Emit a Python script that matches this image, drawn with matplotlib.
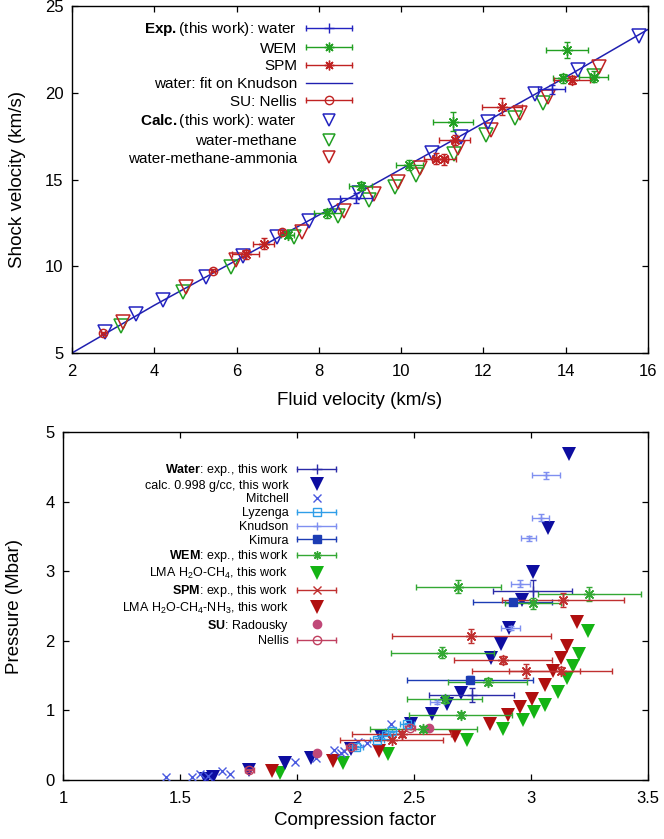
import matplotlib
matplotlib.use("Agg")
import matplotlib.pyplot as plt
from matplotlib.legend_handler import HandlerBase
from matplotlib.lines import Line2D

plt.rcParams['font.family'] = ['Liberation Sans', 'DejaVu Sans']
plt.rcParams['mathtext.fontset'] = 'custom'
plt.rcParams['mathtext.rm'] = 'Liberation Sans'
plt.rcParams['mathtext.bf'] = 'Liberation Sans:bold'
plt.rcParams['mathtext.it'] = 'Liberation Sans:italic'

# ---------------- top panel data (fluid velocity, shock velocity) ----------------
calc_w_up = [2.79, 3.56, 4.20, 5.26, 6.16, 6.99, 7.76, 8.39, 8.98, 10.76, 11.45, 12.10, 13.25, 14.29, 15.77]
calc_w_us = [6.23, 7.23, 8.05, 9.40, 10.59, 11.67, 12.63, 13.47, 14.20, 16.51, 17.47, 18.34, 19.93, 21.31, 23.27]
calc_wm_up = [3.20, 4.70, 5.87, 7.40, 8.47, 9.23, 9.84, 10.37, 11.29, 12.07, 12.76, 13.46, 14.68]
calc_wm_us = [6.57, 8.50, 9.97, 11.70, 12.90, 13.82, 14.59, 15.26, 16.47, 17.56, 18.52, 19.43, 20.96]
calc_wma_up = [3.25, 4.78, 5.98, 7.60, 8.60, 9.33, 9.92, 10.47, 11.38, 12.18, 12.89, 13.56, 14.80]
calc_wma_us = [6.80, 8.79, 10.36, 11.99, 13.20, 14.16, 14.87, 15.64, 16.84, 17.88, 18.85, 19.78, 21.46]
nellis_up = [2.75, 5.43, 7.11]
nellis_us = [6.13, 9.74, 11.99]
exp_w_up = [8.90, 13.66]
exp_w_us = [13.92, 20.20]
exp_w_uperr = [0.39, 0.33]
exp_w_userr = [0.29, 0.25]
wem_up = [7.24, 8.21, 9.02, 10.20, 11.26, 13.94, 14.04, 14.68]
wem_us = [11.80, 13.05, 14.63, 15.84, 18.33, 20.83, 22.46, 20.93]
wem_uperr = [0.15, 0.33, 0.28, 0.32, 0.48, 0.26, 0.51, 0.35]
wem_userr = [0.20, 0.25, 0.25, 0.30, 0.55, 0.25, 0.48, 0.30]
spm_up = [6.22, 6.66, 10.85, 11.04, 11.30, 12.45, 14.15]
spm_us = [10.69, 11.31, 16.20, 16.16, 17.28, 19.20, 20.74]
spm_uperr = [0.33, 0.26, 0.30, 0.30, 0.37, 0.49, 0.43]
spm_userr = [0.25, 0.30, 0.30, 0.30, 0.30, 0.50, 0.25]
fit_up = [2.0, 4.0, 6.0, 8.0, 10.0, 12.0, 14.0, 16.0]
fit_us = [5.0, 7.75, 10.35, 12.95, 15.6, 18.25, 20.9, 23.65]

# ---------------- bottom panel data (compression factor, pressure) ----------------
cw_x = [1.611, 1.642, 1.796, 1.949, 2.058, 2.23, 2.36, 2.486, 2.576, 2.64, 2.70, 2.83, 2.872, 2.907, 2.96, 3.007, 3.071, 3.164]
cw_p = [0.02, 0.04, 0.15, 0.24, 0.32, 0.45, 0.63, 0.80, 0.95, 1.09, 1.25, 1.75, 1.95, 2.19, 2.59, 2.99, 3.62, 4.68]
cwm_x = [1.927, 2.196, 2.387, 2.725, 2.882, 2.964, 3.013, 3.06, 3.117, 3.152, 3.18, 3.205, 3.245]
cwm_p = [0.10, 0.25, 0.38, 0.58, 0.73, 0.86, 0.97, 1.08, 1.27, 1.46, 1.64, 1.81, 2.14]
cwma_x = [1.892, 2.155, 2.35, 2.675, 2.825, 2.903, 2.953, 3.003, 3.06, 3.095, 3.127, 3.155, 3.198]
cwma_p = [0.13, 0.28, 0.42, 0.63, 0.80, 0.93, 1.05, 1.17, 1.36, 1.56, 1.75, 1.93, 2.27]
mit_x = [1.44, 1.55, 1.585, 1.62, 1.68, 1.714, 1.99, 2.08, 2.158, 2.187, 2.20, 2.26, 2.30, 2.40]
mit_p = [0.05, 0.05, 0.08, 0.06, 0.13, 0.08, 0.26, 0.31, 0.43, 0.39, 0.41, 0.55, 0.53, 0.80]
lyz_x = [2.252, 2.34, 2.38, 2.405, 2.47]
lyz_p = [0.47, 0.58, 0.65, 0.71, 0.80]
lyz_xerr = [0.03, 0.03, 0.03, 0.03, 0.03]
knu_x = [3.063, 3.041, 2.99, 2.955, 2.913, 2.60]
knu_p = [4.38, 3.77, 3.47, 2.82, 2.18, 1.12]
knu_xerr = [0.06, 0.035, 0.032, 0.04, 0.04, 0.03]
knu_perr = [0.05, 0.05, 0.03, 0.05, 0.03, 0.03]
kim_x = [2.921, 2.74]
kim_p = [2.56, 1.44]
kim_xerr = [0.17, 0.27]
kim_perr = [0.03, 0.05]
ew_x = [3.007, 2.746]
ew_p = [2.72, 1.22]
ew_xerr = [0.17, 0.18]
ew_perr = [0.16, 0.10]
wemb_x = [2.69, 3.249, 3.007, 2.62, 2.815, 2.632, 2.70, 2.54]
wemb_p = [2.78, 2.67, 2.54, 1.83, 1.41, 1.16, 0.93, 0.73]
wemb_xerr = [0.18, 0.22, 0.12, 0.22, 0.17, 0.16, 0.22, 0.23]
wemb_perr = [0.10, 0.10, 0.08, 0.08, 0.05, 0.05, 0.04, 0.04]
spmb_x = [3.138, 2.744, 2.879, 2.979, 3.128, 2.447, 2.405]
spmb_p = [2.59, 2.07, 1.72, 1.56, 1.57, 0.66, 0.58]
spmb_xerr = [0.26, 0.34, 0.21, 0.23, 0.22, 0.21, 0.22]
spmb_perr = [0.10, 0.10, 0.06, 0.10, 0.05, 0.04, 0.03]
rad_x = [2.087, 2.566]
rad_p = [0.39, 0.75]
nelb_x = [1.796, 2.23, 2.483]
nelb_p = [0.14, 0.48, 0.75]
nelb_xerr = [0.02, 0.02, 0.02]

# ---------------- colours ----------------
BLUE = '#2323c0'
GREEN = '#22a022'
RED = '#c02222'

c_ew = '#2a2aa8'
c_cw = '#0d0da0'
c_mit = '#4a5ae0'
c_lyz = '#2f9ee8'
c_knu = '#7f8ff0'
c_kim = '#1c3cb4'
c_wem = '#33a833'
c_cwm = '#14b414'
c_spm = '#c03030'
c_cwma = '#b00f0f'
c_rad = '#c04878'
c_nel = '#c04060'


class ErrSample(HandlerBase):
    """gnuplot-like key sample: horizontal bar with end caps and a marker in the middle."""
    def __init__(self, color, marker=None, ms=6, mfc=None, mew=1.0, lw=1.0, bar=True, capms=5):
        super().__init__()
        self.color = color
        self.marker = marker
        self.ms = ms
        self.mfc = mfc if mfc is not None else color
        self.mew = mew
        self.lw = lw
        self.bar = bar
        self.capms = capms

    def create_artists(self, legend, orig_handle, xdescent, ydescent, width, height, fontsize, trans):
        y = (height - ydescent) / 2.0
        x0 = -xdescent
        x1 = width - xdescent
        arts = []
        if self.bar:
            arts.append(Line2D([x0, x1], [y, y], color=self.color, lw=self.lw))
            arts.append(Line2D([x0, x1], [y, y], ls='none', marker='|', ms=self.capms,
                               mew=self.lw, color=self.color))
        if self.marker is not None:
            arts.append(Line2D([(x0 + x1) / 2], [y], ls='none', marker=self.marker, ms=self.ms,
                               mfc=self.mfc, mec=self.color, mew=self.mew, color=self.color))
        for a in arts:
            a.set_transform(trans)
        return arts


AST = (8, 2, 0)

fig = plt.figure(figsize=(6.64, 8.39), dpi=100)
ax1 = fig.add_axes([72 / 664, 1 - 353 / 839, 576 / 664, 347 / 839])
ax2 = fig.add_axes([63 / 664, 1 - 780 / 839, 585 / 664, 348 / 839])

# ================= top panel =================
ax1.plot(fit_up, fit_us, color='#2020b0', lw=1.1, zorder=2)
eb_kw = dict(capsize=2, elinewidth=1.0, capthick=1.0, ls='none')
ax1.errorbar(exp_w_up, exp_w_us, xerr=exp_w_uperr, yerr=exp_w_userr, marker='+', ms=7, color=BLUE, zorder=4, **eb_kw)
ax1.errorbar(wem_up, wem_us, xerr=wem_uperr, yerr=wem_userr, marker=AST, ms=8, color=GREEN, zorder=4, **eb_kw)
ax1.errorbar(spm_up, spm_us, xerr=spm_uperr, yerr=spm_userr, marker=AST, ms=8, color=RED, zorder=4, **eb_kw)
ax1.errorbar(nellis_up, nellis_us, xerr=[0.05] * 3, yerr=[0.1] * 3, marker='o', ms=6, mfc='none', mew=1.0, color=RED, zorder=4, **eb_kw)
tri_kw = dict(ls='none', marker='v', ms=9.5, mfc='none', mew=1.1, zorder=3)
ax1.plot(calc_wm_up, calc_wm_us, mec=GREEN, **tri_kw)
ax1.plot(calc_wma_up, calc_wma_us, mec=RED, **tri_kw)
ax1.plot(calc_w_up, calc_w_us, mec=BLUE, **tri_kw)

ax1.set_xlim(2, 16)
ax1.set_ylim(5, 25)
ax1.set_xticks([2, 4, 6, 8, 10, 12, 14, 16])
ax1.set_yticks([5, 10, 15, 20, 25])
ax1.set_xlabel('Fluid velocity (km/s)', fontsize=13.5, labelpad=9)
ax1.set_ylabel('Shock velocity (km/s)', fontsize=13.5, labelpad=14)

h_top = [Line2D([], []) for _ in range(8)]
lab_top = [r'$\mathbf{Exp.}$(this work): water', 'WEM', 'SPM', 'water: fit on Knudson', 'SU: Nellis',
           r'$\mathbf{Calc.}$(this work): water', 'water-methane', 'water-methane-ammonia']
hm_top = {
    h_top[0]: ErrSample(BLUE, '+', ms=7),
    h_top[1]: ErrSample(GREEN, AST, ms=7),
    h_top[2]: ErrSample(RED, AST, ms=7),
    h_top[3]: ErrSample('#2020b0', None, capms=0),
    h_top[4]: ErrSample(RED, 'o', ms=6, mfc='none'),
    h_top[5]: ErrSample(BLUE, 'v', ms=9, mfc='none', bar=False, mew=1.1),
    h_top[6]: ErrSample(GREEN, 'v', ms=9, mfc='none', bar=False, mew=1.1),
    h_top[7]: ErrSample(RED, 'v', ms=9, mfc='none', bar=False, mew=1.1),
}
ax1.legend(h_top, lab_top, handler_map=hm_top, loc='upper right',
           bbox_to_anchor=(352 / 664, 1 - 20 / 839), bbox_transform=fig.transFigure,
           frameon=False, markerfirst=False, fontsize=11, handlelength=3.0,
           handletextpad=0.6, labelspacing=0.24, borderpad=0, borderaxespad=0)

# ================= bottom panel =================
ax2.errorbar(ew_x, ew_p, xerr=ew_xerr, yerr=ew_perr, marker='+', ms=7, color=c_ew, zorder=5, **eb_kw)
ax2.errorbar(kim_x, kim_p, xerr=kim_xerr, yerr=kim_perr, marker='s', ms=6, color=c_kim, zorder=5, **eb_kw)
ax2.errorbar(knu_x, knu_p, xerr=knu_xerr, yerr=knu_perr, marker='+', ms=5, color=c_knu, zorder=5, **eb_kw)
ax2.errorbar(lyz_x, lyz_p, xerr=lyz_xerr, yerr=[0.02] * len(lyz_x), marker='s', ms=6, mfc='none', mew=1.0, color=c_lyz, zorder=5, **eb_kw)
ax2.plot(mit_x, mit_p, ls='none', marker='x', ms=6, mew=1.0, color=c_mit, zorder=5)
ax2.errorbar(wemb_x, wemb_p, xerr=wemb_xerr, yerr=wemb_perr, marker=AST, ms=8, color=c_wem, zorder=5, **eb_kw)
ax2.errorbar(spmb_x, spmb_p, xerr=spmb_xerr, yerr=spmb_perr, marker=AST, ms=8, color=c_spm, zorder=5, **eb_kw)
ax2.plot(rad_x, rad_p, ls='none', marker='o', ms=6, color=c_rad, zorder=5)
ax2.errorbar(nelb_x, nelb_p, xerr=nelb_xerr, yerr=[0.02] * 3, marker='o', ms=6, mfc='none', mew=1.0, color=c_nel, zorder=5, **eb_kw)
ftri = dict(ls='none', marker='v', ms=10, mew=0, zorder=4)
ax2.plot(cwm_x, cwm_p, color=c_cwm, **ftri)
ax2.plot(cwma_x, cwma_p, color=c_cwma, **ftri)
ax2.plot(cw_x, cw_p, color=c_cw, **ftri)

ax2.set_xlim(1, 3.5)
ax2.set_ylim(0, 5)
ax2.set_xticks([1, 1.5, 2, 2.5, 3, 3.5])
ax2.set_xticklabels(['1', '1.5', '2', '2.5', '3', '3.5'])
ax2.set_yticks([0, 1, 2, 3, 4, 5])
ax2.set_xlabel('Compression factor', fontsize=13.5, labelpad=4)
ax2.set_ylabel('Pressure (Mbar)', fontsize=13.5, labelpad=16)

h_bot = [Line2D([], []) for _ in range(12)]
lab_bot = [r'$\mathbf{Water}$: exp., this work', 'calc. 0.998 g/cc, this work', 'Mitchell', 'Lyzenga',
           'Knudson', 'Kimura', r'$\mathbf{WEM}$: exp., this work', r'LMA H$_2$O-CH$_4$, this work',
           r'$\mathbf{SPM}$: exp., this work', r'LMA H$_2$O-CH$_4$-NH$_3$, this work',
           r'$\mathbf{SU}$: Radousky', 'Nellis']
hm_bot = {
    h_bot[0]: ErrSample(c_ew, '+', ms=7, capms=4),
    h_bot[1]: ErrSample(c_cw, 'v', ms=10, mew=0, bar=False),
    h_bot[2]: ErrSample(c_mit, 'x', ms=6, bar=False),
    h_bot[3]: ErrSample(c_lyz, 's', ms=6, mfc='none', capms=4),
    h_bot[4]: ErrSample(c_knu, '+', ms=6, capms=4),
    h_bot[5]: ErrSample(c_kim, 's', ms=6, capms=4),
    h_bot[6]: ErrSample(c_wem, AST, ms=6, capms=4),
    h_bot[7]: ErrSample(c_cwm, 'v', ms=10, mew=0, bar=False),
    h_bot[8]: ErrSample(c_spm, 'x', ms=6, capms=4),
    h_bot[9]: ErrSample(c_cwma, 'v', ms=10, mew=0, bar=False),
    h_bot[10]: ErrSample(c_rad, 'o', ms=6, bar=False),
    h_bot[11]: ErrSample(c_nel, 'o', ms=6, mfc='none', capms=4),
}
ax2.legend(h_bot, lab_bot, handler_map=hm_bot, loc='upper right',
           bbox_to_anchor=(336 / 664, 1 - 462 / 839), bbox_transform=fig.transFigure,
           frameon=False, markerfirst=False, fontsize=9, handlelength=3.1,
           handletextpad=0.7, labelspacing=0.14, borderpad=0, borderaxespad=0)

for ax in (ax1, ax2):
    ax.tick_params(direction='in', top=True, right=True, length=4, width=0.9, labelsize=12, pad=6)
    ax.tick_params(axis='x', pad=8)
    for s in ax.spines.values():
        s.set_linewidth(1.0)

fig.savefig('out.png', dpi=100)
